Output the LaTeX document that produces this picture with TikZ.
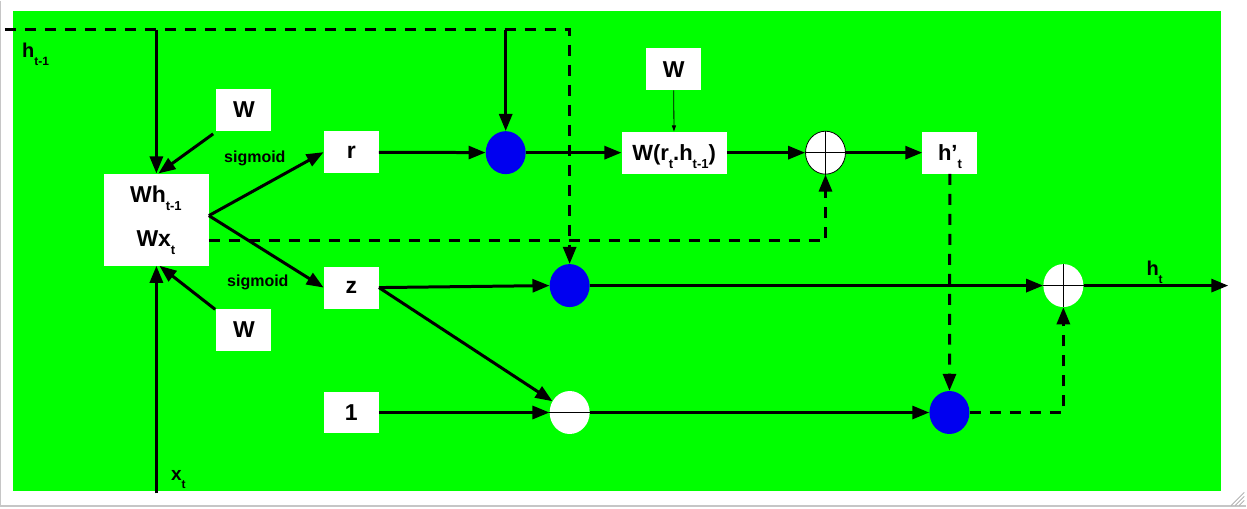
\documentclass[tikz,border=0pt]{standalone}
\usepackage{fontspec}
\setmainfont{Liberation Sans}
\usetikzlibrary{arrows.meta,shapes.geometric,calc}
\newcommand\lowsub[2]{\raisebox{-8pt}{\fontsize{#1}{#1}\selectfont #2}}
\definecolor{bggreen}{RGB}{0,255,0}
\definecolor{gblue}{RGB}{0,0,240}
\begin{document}
\begin{tikzpicture}[x=1pt,y=-1pt,
  wbox/.style={fill=white,inner sep=0pt,minimum width=55pt,minimum height=42pt,font=\bfseries\fontsize{23}{23}\selectfont},
  dot/.style={ellipse,inner sep=0pt,minimum width=40pt,minimum height=43pt},
  bdot/.style={dot,fill=gblue},
  wdot/.style={dot,fill=white},
  conn/.style={line width=3pt,-{Triangle[length=17pt,width=13pt]}},
  dconn/.style={conn,dash pattern=on 11pt off 9pt},
  lbl/.style={font=\bfseries\fontsize{16}{16}\selectfont,inner sep=0pt},
  var/.style={font=\bfseries\fontsize{20}{20}\selectfont,inner sep=0pt,anchor=base west},
  ]
\fill[white] (0,0) rectangle (1247,508);
\fill[bggreen] (13,10) rectangle (1222,491);
\draw[gray!45,line width=1.5pt] (0.75,0) -- (0.75,505.5) -- (1247,505.5);
\draw[gray!70,line width=0.7pt] (1245,492) -- (1232,505) (1245,496) -- (1236,505) (1245,500) -- (1240,505);

% nodes
\node[wbox,minimum width=105pt,minimum height=92pt] (wh) at (156.5,219) {};
\node[anchor=base,inner sep=0pt,font=\bfseries\fontsize{23}{23}\selectfont] (whtxt) at (156,202) {Wh\lowsub{13}{t-1}};
\node[anchor=base,inner sep=0pt,font=\bfseries\fontsize{23}{23}\selectfont] (wxtxt) at (156,246) {Wx\lowsub{13}{t}};
\node[wbox] (wtop) at (244,109) {W};
\node[wbox] (wbot) at (244,329) {W};
\node[wbox] (r) at (351.5,151.5) {r};
\node[wbox] (z) at (351.5,287) {z};
\node[wbox] (one) at (351.5,412) {1};
\node[bdot] (br) at (506,152) {};
\node[bdot] (bz) at (570,285) {};
\node[wdot] (mn) at (570,412) {};
\node[wbox,minimum width=105pt,text depth=0pt,font=\bfseries\fontsize{22}{22}\selectfont] (wr) at (674.5,152) {W(r\lowsub{13}{t}.h\lowsub{13}{t-1})};
\node[wbox] (wtop2) at (674,68.5) {W};
\node[wdot,draw=black,line width=0.8pt] (p1) at (826,152) {};
\node[wbox,text depth=0pt,font=\bfseries\fontsize{22}{22}\selectfont] (hp) at (950.5,152) {h’\lowsub{13}{t}};
\node[bdot] (bb) at (950,412) {};
\node[wdot] (p2) at (1064,285) {};

\coordinate (htend) at (1229,285);
\coordinate (hstart) at (5,29);
\coordinate (hcorner) at (570,29);
\coordinate (hbranch1) at (156.5,29);
\coordinate (xstart) at (156.5,493);
\coordinate (split) at (209,215);
\coordinate (dsplit) at (209,240);

% labels
\node[lbl] (sig1) at (255,158) {sigmoid};
\node[lbl] (sig2) at (258,282) {sigmoid};
\node[var] (hlbl) at (22,57) {h\lowsub{12}{t-1}};
\node[var,font=\bfseries\fontsize{19}{19}\selectfont] (xlbl) at (171,480) {x\lowsub{12}{t}};
\node[var] (htlbl) at (1147,275) {h\lowsub{12}{t}};

% symbols inside circles
\draw[line width=0.8pt] (p1.west) -- (p1.east) (p1.north) -- (p1.south);
\draw[line width=0.8pt] (p2.west) -- (p2.east) (p2.north) -- (p2.south);
\draw[line width=1.5pt] (mn.west) -- (mn.east);

% connectors
\draw[dconn] (hstart) -- (hcorner) -- (bz.north);
\draw[conn] (hbranch1) -- (wh.north);
\draw[conn] (br|-hstart) -- (br.north);
\draw[conn] ($(wtop.south west)+(-3,3)$) -- ($(wh.north)+(2,0)$);
\draw[conn] ($(wbot.north west)+(-1,1)$) -- ($(wh.south)+(3,0)$);
\draw[conn] (xstart) -- (wh.south);
\draw[conn] (split) -- (r.west);
\draw[conn] (split) -- (z.west);
\draw[dconn] (dsplit) -- (dsplit-|p1) -- (p1.south);
\draw[conn] (r) -- (br);
\draw[conn] (br) -- (wr);
\draw[conn] (wr) -- (p1);
\draw[conn] (p1) -- (hp);
\draw[line width=0.8pt,-{Triangle[length=6pt,width=4pt]}] (wtop2) -- (wr);
\draw[conn] (z.east) -- (bz.west);
\draw[conn] (z.east) -- (mn);
\draw[conn] (one) -- (mn);
\draw[conn] (mn) -- (bb);
\draw[conn] (bz) -- (p2);
\draw[conn] (p2) -- (htend);
\draw[dconn] (hp) -- (bb);
\draw[dconn] (bb.east) -- (bb.east-|p2) -- (p2.south);
\end{tikzpicture}
\end{document}
